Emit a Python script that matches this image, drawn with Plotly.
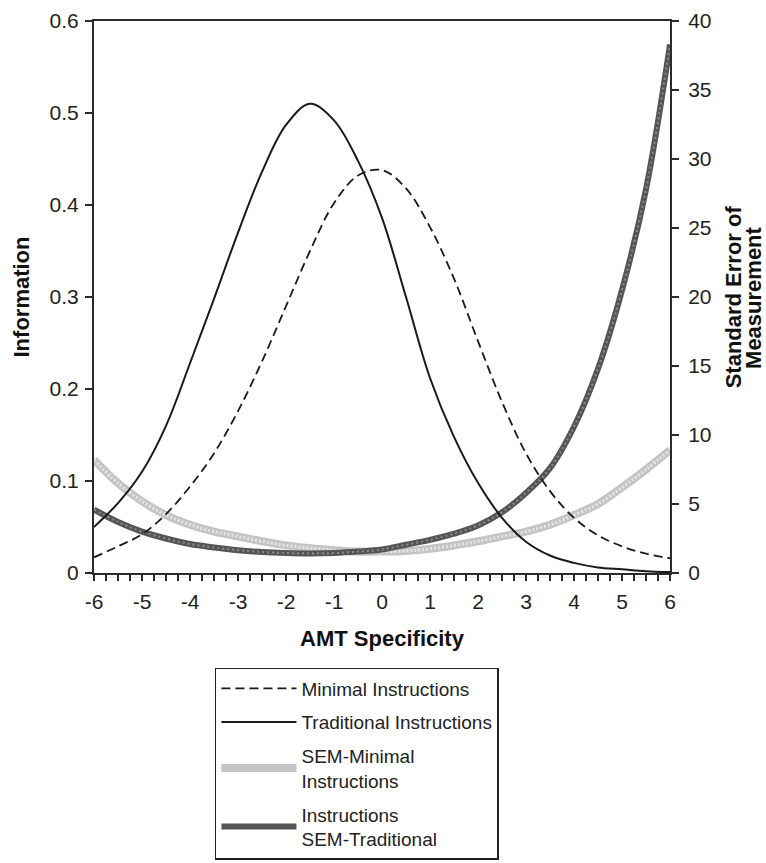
import plotly.graph_objects as go

# ---- data ----
theta = [-6, -5.5, -5, -4.5, -4, -3.5, -3, -2.5, -2, -1.5, -1, -0.5, 0,
         0.5, 1, 1.5, 2, 2.5, 3, 3.5, 4, 4.5, 5, 5.5, 6]

info_minimal = [0.017, 0.029, 0.042, 0.064, 0.094, 0.130, 0.176, 0.230, 0.290,
                0.350, 0.402, 0.432, 0.438, 0.418, 0.376, 0.320, 0.252, 0.186,
                0.130, 0.089, 0.060, 0.041, 0.029, 0.021, 0.016]

info_traditional = [0.050, 0.076, 0.110, 0.160, 0.228, 0.298, 0.370, 0.436, 0.487,
                    0.510, 0.492, 0.448, 0.386, 0.300, 0.212, 0.148, 0.098, 0.060,
                    0.034, 0.019, 0.011, 0.006, 0.004, 0.002, 0.001]

sem_minimal = [8.2, 6.5, 5.2, 4.2, 3.5, 3.0, 2.65, 2.3, 2.0, 1.8, 1.65, 1.55, 1.55,
               1.6, 1.75, 2.0, 2.3, 2.65, 3.0, 3.5, 4.2, 5.0, 6.2, 7.5, 8.9]

sem_traditional = [4.6, 3.7, 3.0, 2.5, 2.1, 1.85, 1.65, 1.52, 1.45, 1.42, 1.45, 1.55,
                   1.7, 2.05, 2.4, 2.85, 3.45, 4.4, 5.8, 7.6, 10.6, 14.8, 20.5, 27.8, 38.3]

x_ticks = [-6, -5, -4, -3, -2, -1, 0, 1, 2, 3, 4, 5, 6]
x_tick_text = ["-6", "-5", "-4", "-3", "-2", "-1", "0", "1", "2", "3", "4", "5", "6"]
info_ticks = [0, 0.1, 0.2, 0.3, 0.4, 0.5, 0.6]
info_tick_text = ["0", "0.1", "0.2", "0.3", "0.4", "0.5", "0.6"]
sem_ticks = [0, 5, 10, 15, 20, 25, 30, 35, 40]
right_title_lines = ["Standard Error of", "Measurement"]

FONT = "Liberation Sans, Arial, sans-serif"
AX = "#2b2b2b"

fig = go.Figure()

fig.add_trace(go.Scatter(x=theta, y=info_minimal, name="Minimal Instructions", legendgroup="g1",
                         mode="lines", line=dict(color="#1a1a1a", width=1.8, dash="9px,5px", shape="spline"),
                         yaxis="y2"))
fig.add_trace(go.Scatter(x=theta, y=info_traditional, name="Traditional Instructions", legendgroup="g2",
                         mode="lines", line=dict(color="#1a1a1a", width=2, shape="spline"),
                         yaxis="y2"))
fig.add_trace(go.Scatter(x=theta, y=sem_minimal, name="SEM-Minimal<br>Instructions", legendgroup="g3",
                         mode="lines", line=dict(color="#c4c4c4", width=8, shape="spline"),
                         yaxis="y"))
fig.add_trace(go.Scatter(x=theta, y=sem_minimal, showlegend=False, hoverinfo="skip", legendgroup="g3",
                         mode="lines", line=dict(color="#e6e6e6", width=3, dash="2px,2px", shape="spline"),
                         yaxis="y"))
fig.add_trace(go.Scatter(x=theta, y=sem_traditional, name="Instructions<br>SEM-Traditional", legendgroup="g4",
                         mode="lines", line=dict(color="#555555", width=6, shape="spline"),
                         yaxis="y"))
fig.add_trace(go.Scatter(x=theta, y=sem_traditional, showlegend=False, hoverinfo="skip", legendgroup="g4",
                         mode="lines", line=dict(color="#8c8c8c", width=2, dash="2px,3px", shape="spline"),
                         yaxis="y"))

tickfont = dict(family=FONT, size=21, color="#222")
titlefont = dict(family=FONT, size=22, color="#111")

fig.update_layout(
    width=766, height=863,
    margin=dict(l=94, r=96, t=21, b=290, autoexpand=False),
    paper_bgcolor="white", plot_bgcolor="white",
    font=dict(family=FONT, color="#222"),
    xaxis=dict(range=[-6, 6], tickvals=x_ticks, ticktext=x_tick_text, ticks="outside",
               ticklen=6, tickwidth=1.5, ticklabelstandoff=3,
               tickcolor=AX, showline=True, linecolor=AX, linewidth=2, mirror=True,
               showgrid=False, zeroline=False, tickfont=tickfont, automargin=False,
               minor=dict(dtick=0.25, tick0=0, ticks="outside", ticklen=6, tickwidth=1.5, tickcolor=AX),
               title=dict(text="<b>AMT Specificity</b>", font=titlefont, standoff=18),
               anchor="y"),
    xaxis2=dict(range=[-6, 6], overlaying="x", anchor="y", side="bottom",
                tickvals=x_ticks, ticks="inside", ticklen=6, tickwidth=1.5, tickcolor=AX,
                showticklabels=False, showgrid=False, zeroline=False, showline=False,
                minor=dict(dtick=0.25, tick0=0, ticks="inside", ticklen=6, tickwidth=1.5, tickcolor=AX)),
    yaxis=dict(range=[0, 40], tickvals=sem_ticks, side="right", anchor="x",
               ticks="outside", ticklen=7, tickwidth=1.5, tickcolor=AX, ticklabelstandoff=5,
               showline=True, linecolor=AX, linewidth=2, showgrid=False, zeroline=False,
               tickfont=tickfont, automargin=False),
    yaxis2=dict(range=[0, 0.6], tickvals=info_ticks, ticktext=info_tick_text, side="left",
                overlaying="y", anchor="x",
                ticks="outside", ticklen=7, tickwidth=1.5, tickcolor=AX, ticklabelstandoff=2,
                showline=True, linecolor=AX, linewidth=2, showgrid=False, zeroline=False,
                tickfont=tickfont, automargin=False,
                title=dict(text="<b>Information</b>", font=titlefont, standoff=14)),
    yaxis3=dict(range=[0, 40], tickvals=sem_ticks, side="right", anchor="x", overlaying="y",
                ticks="inside", ticklen=7, tickwidth=1.5, tickcolor=AX, showticklabels=False,
                showline=False, showgrid=False, zeroline=False),
    yaxis4=dict(range=[0, 0.6], tickvals=info_ticks, side="left", anchor="x", overlaying="y",
                ticks="inside", ticklen=7, tickwidth=1.5, tickcolor=AX, showticklabels=False,
                showline=False, showgrid=False, zeroline=False),
    legend=dict(x=0.21, y=-0.172, xanchor="left", yanchor="top",
                bordercolor="#222", borderwidth=1.5, bgcolor="white",
                font=dict(family=FONT, size=19, color="#222"),
                traceorder="grouped", tracegroupgap=6, itemwidth=75),
    showlegend=True,
)

for xp, line in zip([1.110, 1.144], right_title_lines):
    fig.add_annotation(text="<b>" + line + "</b>", xref="paper", yref="paper",
                       x=xp, y=0.5, xanchor="center", yanchor="middle",
                       textangle=-90, showarrow=False, font=titlefont)

# remove the browser's default 8px page margin so the figure fills the window exactly
fig.write_html("out.html", config={"displayModeBar": False},
               post_script="document.body.style.margin='0';")
